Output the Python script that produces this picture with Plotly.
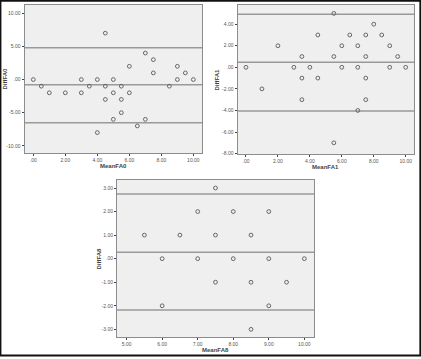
import plotly.graph_objects as go

W, H = 421, 359

# Panel FA0
mean_fa0 = [0, 0.5, 1, 2, 3, 3, 3.5, 4, 4, 4.5, 4.5, 4.5, 5, 5, 5, 5.5, 5.5, 5.5,
            6, 6, 6.5, 7, 7, 7.5, 7.5, 8.5, 9, 9, 9.5, 10]
diff_fa0 = [0, -1, -2, -2, 0, -2, -1, 0, -8, 7, -1, -3, 0, -2, -6, -1, -3, -5,
            2, -2, -7, 4, -6, 3, 1, -1, 2, 0, 1, 0]
lines_fa0 = [4.8, -0.8, -6.5]

# Panel FA1
mean_fa1 = [0, 1, 2, 3, 3.5, 3.5, 3.5, 4, 4.5, 4.5, 5.5, 5.5, 5.5, 6, 6, 6.5,
            7, 7, 7, 7.5, 7.5, 7.5, 7.5, 8, 8.5, 9, 9, 9.5, 10]
diff_fa1 = [0, -2, 2, 0, 1, -1, -3, 0, 3, -1, 5, 1, -7, 2, 0, 3,
            2, 0, -4, 3, 1, -1, -3, 4, 3, 2, 0, 1, 0]
lines_fa1 = [4.92, 0.46, -4.06]

# Panel FA8
mean_fa8 = [5.5, 6, 6, 6.5, 7, 7, 7.5, 7.5, 7.5, 8, 8, 8.5, 8.5, 8.5, 9, 9, 9, 9.5, 10]
diff_fa8 = [1, 0, -2, 1, 2, 0, 3, 1, -1, 2, 0, 1, -1, -3, 2, 0, -2, -1, 0]
lines_fa8 = [2.75, 0.27, -2.18]

# Tick labels (SPSS style)
x_ticks_a = [0, 2, 4, 6, 8, 10]
x_text_a = [".00", "2.00", "4.00", "6.00", "8.00", "10.00"]
y_ticks_0 = [10, 5, 0, -5, -10]
y_text_0 = ["10.00", "5.00", ".00", "-5.00", "-10.00"]
y_ticks_1 = [4, 2, 0, -2, -4, -6, -8]
y_text_1 = ["4.00", "2.00", ".00", "-2.00", "-4.00", "-6.00", "-8.00"]
x_ticks_8 = [5, 6, 7, 8, 9, 10]
x_text_8 = ["5.00", "6.00", "7.00", "8.00", "9.00", "10.00"]
y_ticks_8 = [3, 2, 1, 0, -1, -2, -3]
y_text_8 = ["3.00", "2.00", "1.00", ".00", "-1.00", "-2.00", "-3.00"]

FONT = "Liberation Sans"
PLOT_BG = "#efefef"
BORDER = "#8c8c8c"
REF = "#9a9a9a"
MARK = "#666666"

fig = go.Figure()

panels = [
    (mean_fa0, diff_fa0, lines_fa0, "x", "y", (24.5, 202, 5, 154), [-0.55, 10.54], [-11.1, 11.25],
     x_ticks_a, x_text_a, y_ticks_0, y_text_0, "MeanFA0", "DiffFA0", 5.5),
    (mean_fa1, diff_fa1, lines_fa1, "x2", "y2", (237.5, 414, 5, 155), [-0.53, 10.52], [-8.05, 5.78],
     x_ticks_a, x_text_a, y_ticks_1, y_text_1, "MeanFA1", "DiffFA1", 217),
    (mean_fa8, diff_fa8, lines_fa8, "x3", "y3", (117, 314.3, 181, 339), [4.73, 10.28], [-3.33, 3.34],
     x_ticks_8, x_text_8, y_ticks_8, y_text_8, "MeanFA8", "DiffFA8", 99),
]

layout_axes = {}
annotations = []
shapes = []
for i, (xs, ys, lns, xa, ya, box, xr, yr, xt, xtt, yt, ytt, xtitle, ytitle, ytx) in enumerate(panels):
    l, r, t, b = box
    fig.add_trace(go.Scatter(
        x=xs, y=ys, mode="markers", xaxis=xa, yaxis=ya, showlegend=False,
        marker=dict(symbol="circle-open", size=3.8, color=MARK, line=dict(width=1, color=MARK)),
        hoverinfo="skip"))
    suffix = "" if i == 0 else str(i + 1)
    common = dict(showgrid=False, zeroline=False, showline=True, linecolor=BORDER, linewidth=1,
                  mirror=True, ticks="outside", ticklen=2, tickcolor="#444", tickwidth=1,
                  tickfont=dict(family=FONT, size=5, color="#555"), fixedrange=True)
    layout_axes["xaxis" + suffix] = dict(domain=[l / W, r / W], range=xr, anchor=ya,
                                         tickvals=xt, ticktext=xtt, **common)
    layout_axes["yaxis" + suffix] = dict(domain=[1 - b / H, 1 - t / H], range=yr, anchor=xa,
                                         tickvals=yt, ticktext=ytt, **common)
    for v in lns:
        shapes.append(dict(type="line", xref=xa + " domain", yref=ya, x0=0, x1=1, y0=v, y1=v,
                           line=dict(color=REF, width=1.5), layer="below"))
    annotations.append(dict(text="<b>%s</b>" % xtitle, xref="paper", yref="paper",
                            x=(l + r) / 2 / W, y=1 - (b + 13) / H, showarrow=False,
                            font=dict(family=FONT, size=6, color="#444"),
                            xanchor="center", yanchor="middle"))
    annotations.append(dict(text="<b>%s</b>" % ytitle, xref="paper", yref="paper",
                            x=ytx / W, y=1 - (t + b) / 2 / H, showarrow=False, textangle=-90,
                            font=dict(family=FONT, size=6, color="#444"),
                            xanchor="center", yanchor="middle"))

# whole-image black frame
shapes.append(dict(type="rect", xref="paper", yref="paper", x0=0.001, x1=0.9985, y0=0.004, y1=0.998,
                   line=dict(color="#111", width=2), layer="above"))

fig.update_layout(
    width=W, height=H, margin=dict(l=0, r=0, t=0, b=0),
    paper_bgcolor="white", plot_bgcolor=PLOT_BG,
    shapes=shapes, annotations=annotations, **layout_axes)

fig.write_html("out.html", config={"displayModeBar": False},
               post_script="document.body.style.margin='0';document.body.style.overflow='hidden';")
